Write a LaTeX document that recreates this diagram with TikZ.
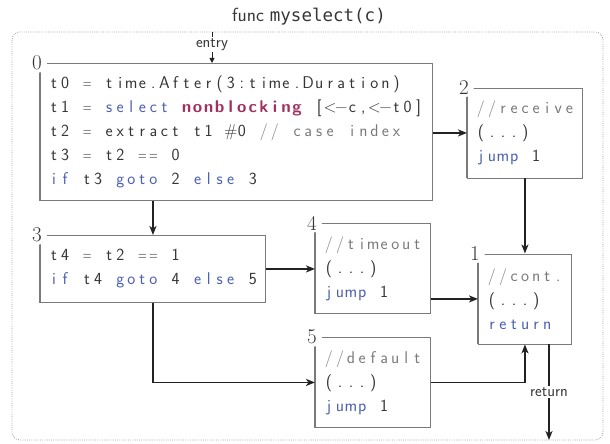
\documentclass[tikz,border=0pt]{standalone}
\usepackage{fontspec}
\usetikzlibrary{arrows.meta,calc}
\newfontfamily\titlemono{DejaVu Sans Mono}
\definecolor{kwc}{HTML}{4A5FB0}
\definecolor{nbc}{HTML}{A03060}
\definecolor{cmc}{HTML}{7A7A7A}
\definecolor{txc}{HTML}{363636}
\definecolor{bxc}{HTML}{7A7A7A}
\definecolor{arc}{HTML}{222222}
% fixed-column code: every character sits in a cell of equal width
\ExplSyntaxOn
\NewDocumentCommand\cc{m}{
  \str_map_inline:nn {#1} {
    \str_if_eq:nnTF {##1} {=}
      {\makebox[11.05pt][c]{\scalebox{0.7}[1]{=}}}
      {\makebox[11.05pt][c]{##1}}
  }
}
\ExplSyntaxOff
\newcommand{\cch}{\makebox[11.05pt][c]{\#}}
\newcommand{\kwd}[1]{\textcolor{kwc}{\cc{#1}}}
\newcommand{\cmt}[1]{\textcolor{cmc}{\cc{#1}}}
\newcommand{\nbk}[1]{\textcolor{nbc}{\bfseries\cc{#1}}}
\tikzset{
  blk/.style={draw=bxc, line width=0.9pt, fill=white, anchor=north west,
    inner xsep=8pt, inner ysep=0pt, align=left, text=txc,
    font=\sffamily\fontsize{17}{24}\selectfont},
  lbl/.style={circle, fill=white, inner sep=1pt, xshift=-3pt,
    font=\fontsize{21}{21}\selectfont, text=txc},
  ledge/.style={draw=bxc, line width=1.8pt},
  flow/.style={draw=arc, line width=1.7pt, -{Stealth[length=9pt,width=7pt,inset=2.5pt]}},
  thinflow/.style={draw=arc, line width=0.9pt, -{Triangle[length=5pt,width=5pt]}},
  small/.style={fill=white, inner sep=1.5pt, text=txc, font=\sffamily\fontsize{16}{16}\selectfont},
  frame/.style={draw=gray!80, line width=0.8pt, dash pattern=on 0.8pt off 1.4pt, rounded corners=8pt}
}
\begin{document}
\begin{tikzpicture}[x=1pt,y=-1pt]
\useasboundingbox (0,0) rectangle (610,444);
% frame and title
\node[text=txc] (title) at (309,17) {\sffamily\fontsize{19}{19}\selectfont func \titlemono\fontsize{17.5}{19}\selectfont myselect(c)};
\draw[frame] (12,32) rectangle (603,440);
\coordinate (entry) at (212,32);
\coordinate (ret) at (549,440);

% blocks
\node[blk, minimum width=392pt, minimum height=137pt, text width=376pt] (b0) at (40,63) {%
\cc{t0 = time.After(3:time.Duration)}\\
\cc{t1 = }\kwd{select}\cc{ }\nbk{nonblocking}\cc{ [<−c,<−t0]}\\
\cc{t2 = extract t1 }\cch\cc{0 }\cmt{// case index}\\
\cc{t3 = t2 == 0}\\
\kwd{if}\cc{ t3 }\kwd{goto}\cc{ 2 }\kwd{else}\cc{ 3}};
\node[blk, minimum width=225pt, minimum height=67pt, text width=209pt] (b3) at (40,235) {%
\cc{t4 = t2 == 1}\\
\kwd{if}\cc{ t4 }\kwd{goto}\cc{ 4 }\kwd{else}\cc{ 5}};
\node[blk, minimum width=115pt, minimum height=90pt, text width=99pt] (b2) at (467,87.5) {%
\cmt{//receive}\\
\cc{(...)}\\
\kwd{jump}\cc{ 1}};
\node[blk, minimum width=93pt, minimum height=90pt, text width=77pt] (b1) at (478,253.5) {%
\cmt{//cont.}\\
\cc{(...)}\\
\kwd{return}};
\node[blk, minimum width=115pt, minimum height=90pt, text width=99pt] (b4) at (315,223) {%
\cmt{//timeout}\\
\cc{(...)}\\
\kwd{jump}\cc{ 1}};
\node[blk, minimum width=115pt, minimum height=90pt, text width=99pt] (b5) at (315,337) {%
\cmt{//default}\\
\cc{(...)}\\
\kwd{jump}\cc{ 1}};

% thicker left edges
\foreach \b in {b0,b1,b2,b3,b4,b5}
  \draw[ledge] (\b.north west) -- (\b.south west);

% corner labels
\node[lbl] (l0) at (b0.north west) {0};
\node[lbl] (l1) at (b1.north west) {1};
\node[lbl] (l2) at (b2.north west) {2};
\node[lbl] (l3) at (b3.north west) {3};
\node[lbl] (l4) at (b4.north west) {4};
\node[lbl] (l5) at (b5.north west) {5};

% connectors
\draw[thinflow] (entry) -- (entry |- b0.north) node[small, pos=0.4] {entry};
\draw[flow] (b0.east |- b2.west) -- (b2.west);
\draw[flow] (b3.north |- b0.south) -- (b3.north);
\draw[flow] (b2.south) -- (b2.south |- b1.north);
\draw[flow] (b3.east) -- (b3.east -| b4.west);
\draw[flow] (b3.south) |- (b5.west);
\draw[flow] (b1.west -| b4.east) -- (b1.west);
\draw[flow] (b5.east) -| (b1.south);
\draw[flow] (b1.south -| ret) -- (ret) node[small, midway] {return};
\end{tikzpicture}
\end{document}
